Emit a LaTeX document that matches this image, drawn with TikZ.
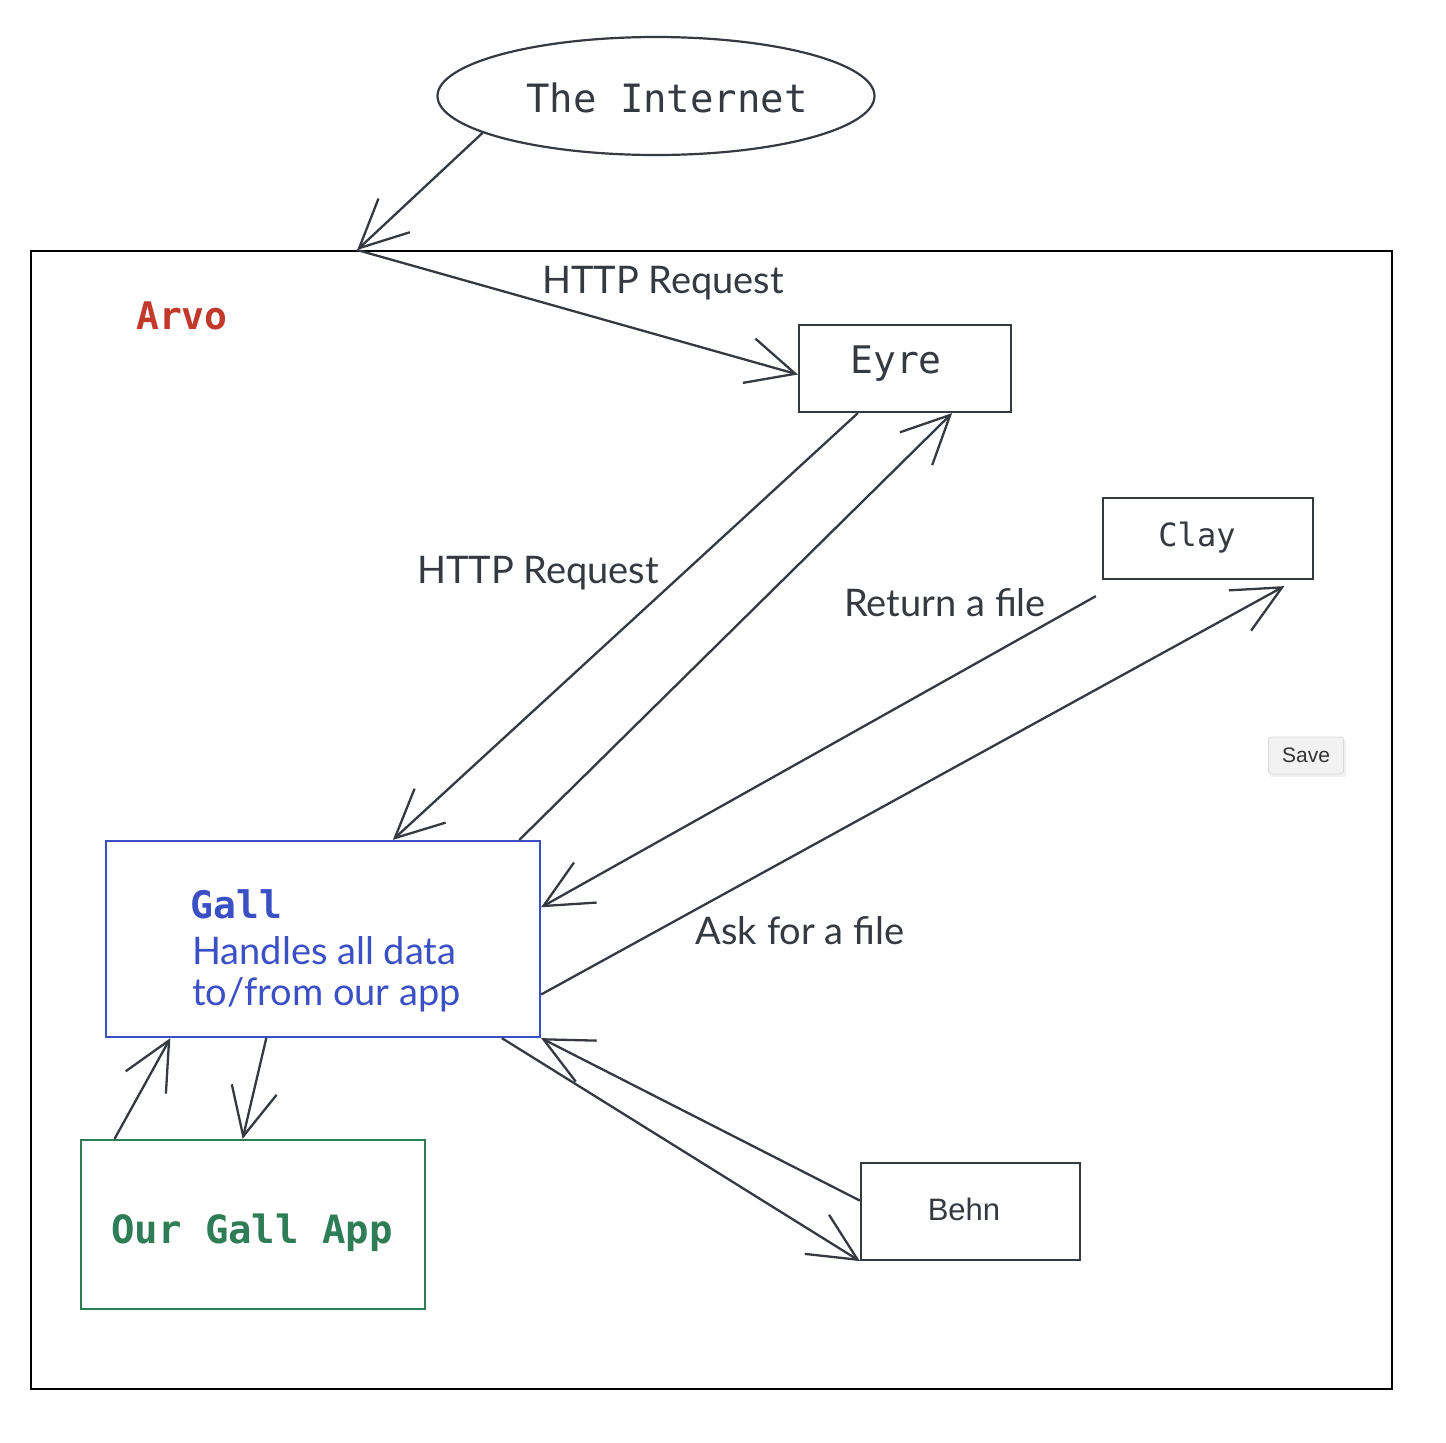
\documentclass[tikz,border=0pt]{standalone}
\usepackage{fontspec}
\setmainfont{Lato}
\setmonofont{DejaVu Sans Mono}
\newfontfamily\handfont{Lato}
\newfontfamily\uifont{Liberation Sans}
\usetikzlibrary{arrows.meta,shapes.geometric,calc}
\definecolor{ink}{HTML}{343A40}
\definecolor{arvored}{HTML}{C0392B}
\definecolor{gallblue}{HTML}{3B50C4}
\definecolor{appgreen}{HTML}{2F7D57}
\begin{document}
\begin{tikzpicture}[x=0.5pt,y=-0.5pt,
  box/.style={draw=ink, line width=1.1pt, inner sep=0pt, rectangle},
  conn/.style={draw=ink, line width=1.15pt, -{Straight Barb[length=24pt,width=23pt,line width=1.15pt]}},
  hand/.style={font=\handfont\fontsize{19}{22}\selectfont, text=ink, inner sep=0pt},
  mono/.style={font=\ttfamily\fontsize{19}{22}\selectfont, text=ink, inner sep=0pt}]
\useasboundingbox[fill=white] (0,0) rectangle (1446,1442);

% frame
\node[draw=black, line width=1pt, minimum width=680.5pt, minimum height=569pt, inner sep=0pt] (arvo) at (711.5,820) {};
\node[font=\ttfamily\bfseries\fontsize{19}{22}\selectfont, text=arvored] (arvolabel) at (182,316) {Arvo};

% nodes
\node[ellipse, draw=ink, line width=1.1pt, minimum width=218.5pt, minimum height=59pt, inner sep=0pt] (internet) at (656,96) {};
\node[mono, font=\ttfamily\fontsize{19.5}{22}\selectfont] (internettext) at (667,98) {The Internet};
\node[box, minimum width=106pt, minimum height=43.5pt] (eyre) at (905,368.5) {};
\node[mono] (eyretext) at (896,364) {Eyre};
\node[box, minimum width=105pt, minimum height=40.5pt] (clay) at (1208,538.5) {};
\node[mono, font=\ttfamily\fontsize{16}{18}\selectfont] (claytext) at (1197,538) {Clay};
\node[box, draw=gallblue, minimum width=217pt, minimum height=98pt] (gall) at (323,939) {};
\node[font=\ttfamily\bfseries\fontsize{19}{22}\selectfont, text=gallblue, anchor=west, inner sep=0pt] (galltitle) at (190,904) {Gall};
\node[font=\handfont\fontsize{19}{20.5}\selectfont, text=gallblue, anchor=west, align=left, inner sep=0pt] (gallnote) at (192,974) {Handles all data\\to/from our app};
\node[box, draw=appgreen, minimum width=172pt, minimum height=84.5pt] (app) at (253,1224.5) {};
\node[font=\ttfamily\bfseries\fontsize{19.5}{22}\selectfont, text=appgreen, inner sep=0pt] (apptext) at (252,1233) {Our Gall App};
\node[box, minimum width=109.5pt, minimum height=48.5pt] (behn) at (970.5,1211.5) {};
\node[font=\uifont\fontsize{15.5}{18}\selectfont, text=ink, inner sep=0pt] (behntext) at (964,1209) {Behn};

% save button
\fill[black!6] (1270,740) rectangle (1346,777);
\node[draw=black!15, fill=black!5, rounded corners=1.5pt, minimum width=37.5pt, minimum height=18.5pt, inner sep=0pt, font=\uifont\fontsize{10.5}{12}\selectfont, text=black!80] (save) at (1306,755.5) {Save};

% connectors
\coordinate (hub) at ($(arvo.north west)!0.24!(arvo.north east)$);
\draw[conn] (internet.192) -- (hub);
\draw[conn] (hub) -- ($(eyre.west)+(0,6)$);
\node[hand] (lbl1) at (663,283) {HTTP Request};
\draw[conn] ($(eyre.south west)!0.28!(eyre.south east)$) -- ($(gall.north west)!0.66!(gall.north east)$);
\node[hand] (lbl2) at (538,573) {HTTP Request};
\draw[conn] ($(gall.north west)!0.95!(gall.north east)$) -- ($(eyre.south west)!0.72!(eyre.south east)$);
\draw[conn] ($(clay.south west)+(-6,16)$) -- ($(gall.north east)!0.34!(gall.south east)$);
\node[hand] (lbl3) at (945,603) {Return a file};
\draw[conn] ($(gall.north east)!0.78!(gall.south east)$) -- ($(clay.south west)!0.86!(clay.south east)+(0,6)$);
\node[hand] (lbl4) at (800,931) {Ask for a file};
\draw[conn] ($(gall.south west)!0.37!(gall.south east)$) -- ($(app.north west)!0.47!(app.north east)$);
\draw[conn] ($(app.north west)!0.10!(app.north east)$) -- ($(gall.south west)!0.15!(gall.south east)$);
\draw[conn] ($(gall.south west)!0.91!(gall.south east)$) -- (behn.south west);
\draw[conn] ($(behn.north west)!0.39!(behn.south west)$) -- (gall.south east);
\end{tikzpicture}
\end{document}
